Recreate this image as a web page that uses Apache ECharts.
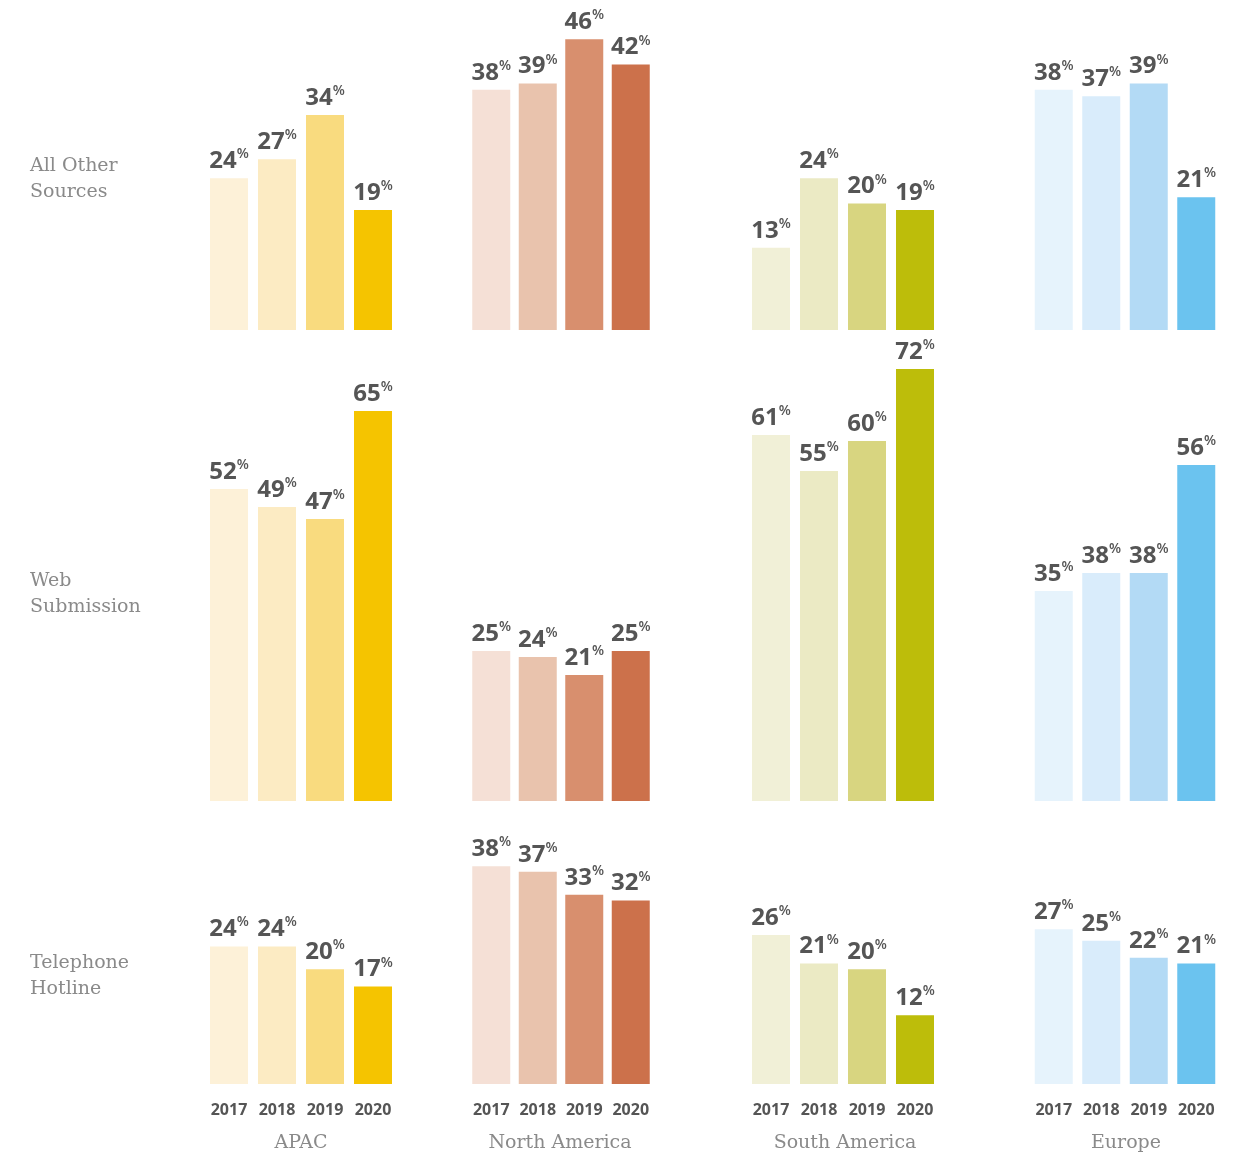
<!DOCTYPE html>
<html>
<head>
<meta charset="utf-8">
<script src="https://cdn.jsdelivr.net/npm/echarts@6/dist/echarts.min.js"></script>
<style>
  html, body { margin: 0; padding: 0; background: #fff; }
  #chart { width: 1243px; height: 1156px; }
</style>
</head>
<body>
<div id="chart"></div>
<script>
// Categories
const years = ['2017', '2018', '2019', '2020'];
const regions = ['APAC', 'North America', 'South America', 'Europe'];
const channels = ['All Other\nSources', 'Web\nSubmission', 'Telephone\nHotline'];

// Share of reports by channel, per region and year (%)
const apacOther = [24, 27, 34, 19];
const apacWeb = [52, 49, 47, 65];
const apacPhone = [24, 24, 20, 17];

const naOther = [38, 39, 46, 42];
const naWeb = [25, 24, 21, 25];
const naPhone = [38, 37, 33, 32];

const saOther = [13, 24, 20, 19];
const saWeb = [61, 55, 60, 72];
const saPhone = [26, 21, 20, 12];

const euOther = [38, 37, 39, 21];
const euWeb = [35, 38, 38, 56];
const euPhone = [27, 25, 22, 21];

// Layout: one grid per region (column) and channel (row)
const colLefts = [205, 468, 747, 1030];
const colWidths = [192, 186, 192, 190];
const rowLayout = [
  { top: 14, height: 316, max: 50 },
  { top: 351, height: 450, max: 75 },
  { top: 826, height: 258, max: 45 }
];
const palettes = [
  ['#FDF1D8', '#FCEBC3', '#F9DB7F', '#F5C400'],
  ['#F5E0D6', '#E9C3AD', '#D88F6E', '#CC714B'],
  ['#F1F0D7', '#EBEAC4', '#D8D580', '#BDBD0A'],
  ['#E6F3FC', '#D9ECFB', '#B3DAF5', '#6BC3EF']
];
const table = [
  [apacOther, naOther, saOther, euOther],
  [apacWeb, naWeb, saWeb, euWeb],
  [apacPhone, naPhone, saPhone, euPhone]
];

const grids = [], xAxes = [], yAxes = [], series = [];
let idx = 0;
rowLayout.forEach((row, r) => {
  colLefts.forEach((left, c) => {
    grids.push({ left: left, width: colWidths[c], top: row.top, height: row.height });
    xAxes.push({
      type: 'category', gridIndex: idx, data: years,
      axisLine: { show: false }, axisTick: { show: false },
      axisLabel: {
        show: r === 2, interval: 0, margin: 18, color: '#555',
        fontFamily: 'Open Sans', fontWeight: 700, fontSize: 16
      }
    });
    yAxes.push({
      type: 'value', gridIndex: idx, min: 0, max: row.max, show: false,
      splitLine: { show: false }
    });
    series.push({
      type: 'bar', xAxisIndex: idx, yAxisIndex: idx,
      barWidth: 38,
      data: table[r][c].map((v, i) => ({ value: v, itemStyle: { color: palettes[c][i] } })),
      label: {
        show: true, position: 'top', distance: 3,
        formatter: p => '{n|' + p.value + '}{p|%}',
        rich: {
          n: { fontFamily: 'Open Sans', fontWeight: 700, fontSize: 24, color: '#555', lineHeight: 28 },
          p: { fontFamily: 'Open Sans', fontWeight: 600, fontSize: 14, color: '#555', verticalAlign: 'top', lineHeight: 28, padding: [0, 0, 11, 0] }
        }
      },
      emphasis: { disabled: true },
      animation: false
    });
    idx++;
  });
});

const textStyleSerif = { fontFamily: 'DejaVu Serif', fontWeight: 'normal', fontSize: 19, color: '#8a8a8a', lineHeight: 26 };
const regionCenters = [301, 560, 845, 1126];
const rowLabelTops = [153, 568, 950];

const titles = [];
regions.forEach((name, i) => {
  titles.push({ text: name, left: regionCenters[i], top: 1130, padding: 0, textAlign: 'center', textStyle: Object.assign({}, textStyleSerif) });
});
channels.forEach((name, i) => {
  titles.push({ text: name, left: 30, top: rowLabelTops[i], padding: 0, textStyle: Object.assign({}, textStyleSerif) });
});

const chart = echarts.init(document.getElementById('chart'), null, { renderer: 'canvas' });
chart.setOption({
  backgroundColor: '#fff',
  animation: false,
  title: titles,
  grid: grids,
  xAxis: xAxes,
  yAxis: yAxes,
  series: series
});
</script>
</body>
</html>
